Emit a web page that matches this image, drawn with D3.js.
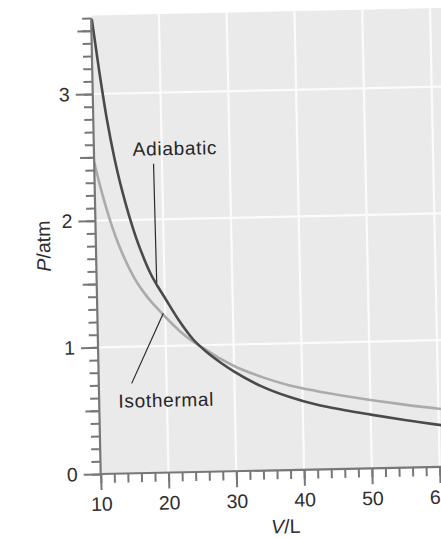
<!DOCTYPE html>
<html>
<head>
<meta charset="utf-8">
<script src="https://cdn.jsdelivr.net/npm/d3@7"></script>
<style>
  html, body { margin: 0; padding: 0; background: #fff; }
  svg { display: block; }
  text { font-family: "Liberation Sans", Arial, Helvetica, sans-serif; }
</style>
</head>
<body>
<svg id="chart" width="441" height="539"></svg>
<script>
// ---- data ----
const volumes    = [10, 11, 12, 13, 14, 15, 16, 17, 18, 19, 20, 22, 24, 26, 28, 30, 34, 38, 42, 46, 50, 55, 62];
const adiabatic  = [3.63, 3.19, 2.80, 2.49, 2.24, 2.03, 1.85, 1.70, 1.57, 1.47, 1.38, 1.20, 1.05, 0.945, 0.86, 0.785, 0.665, 0.578, 0.512, 0.465, 0.424, 0.376, 0.315];
const isothermal = [2.46, 2.23, 2.03, 1.86, 1.72, 1.60, 1.50, 1.42, 1.35, 1.29, 1.23, 1.12, 1.03, 0.96, 0.89, 0.83, 0.74, 0.67, 0.62, 0.578, 0.54, 0.497, 0.445];
const xTicks = [10, 20, 30, 40, 50, 60];
const yTicks = [0, 1, 2, 3];
const xMinorTicks = d3.range(10, 62, 2);
const yHalfTicks = [0.5, 1.5, 2.5, 3.5];
const yMinorTicks = d3.range(0, 36.5, 1).map(d => d / 10);
const xLabel = "V/L";
const yLabel = "P/atm";
const annotations = [
  { text: "Adiabatic", labelV: 21.95, labelP: 2.505, from: [18.75, 2.44], to: [18.85, 1.50] },
  { text: "Isothermal", labelV: 19.9, labelP: 0.52, from: [14.85, 0.71], to: [19.73, 1.258] }
];

// ---- layout ----
const ox = 100.7, oy = 474;
const x = d3.scaleLinear().domain([10, 60]).range([ox, ox + 5 * 67.8]);
const y = d3.scaleLinear().domain([0, 3]).range([oy, oy - 3 * 126.7]);
const pTop = 3.6;

const svg = d3.select("#chart");
const g = svg.append("g").attr("transform", `rotate(-1.2, ${ox}, ${oy})`);

// plot background
g.append("rect")
  .attr("x", x(10)).attr("y", y(3.62))
  .attr("width", x(64) - x(10)).attr("height", y(0) - y(3.62))
  .attr("fill", "#eaeaea");

// white gridlines
g.append("g").selectAll("line").data(xTicks.slice(1)).join("line")
  .attr("x1", d => x(d)).attr("x2", d => x(d))
  .attr("y1", y(0)).attr("y2", y(3.62))
  .attr("stroke", "#fbfbfb").attr("stroke-width", 2.2);
g.append("g").selectAll("line").data(yTicks.slice(1)).join("line")
  .attr("x1", x(10)).attr("x2", x(64))
  .attr("y1", d => y(d)).attr("y2", d => y(d))
  .attr("stroke", "#fbfbfb").attr("stroke-width", 2.2);

// clip for curves
svg.append("defs").append("clipPath").attr("id", "plotclip")
  .append("rect")
  .attr("x", x(10)).attr("y", y(pTop) + 1)
  .attr("width", x(64) - x(10)).attr("height", y(0) - y(pTop));

const line = (vals) => d3.line()
  .x((d, i) => x(volumes[i]))
  .y(d => y(d))
  .curve(d3.curveMonotoneX)(vals);

const curves = g.append("g").attr("clip-path", "url(#plotclip)");
curves.append("path").attr("d", line(isothermal))
  .attr("fill", "none").attr("stroke", "#ababab").attr("stroke-width", 2.6);
curves.append("path").attr("d", line(adiabatic))
  .attr("fill", "none").attr("stroke", "#4a4a4a").attr("stroke-width", 2.6);

// annotations
annotations.forEach(a => {
  g.append("line")
    .attr("x1", x(a.from[0])).attr("y1", y(a.from[1]))
    .attr("x2", x(a.to[0])).attr("y2", y(a.to[1]))
    .attr("stroke", "#2a2a2a").attr("stroke-width", 1.2);
  g.append("text")
    .attr("x", x(a.labelV)).attr("y", y(a.labelP))
    .attr("text-anchor", "middle")
    .attr("font-size", 19)
    .attr("letter-spacing", 0.7)
    .attr("fill", "#262626")
    .text(a.text);
});

// axes
const axisColor = "#777";
function styleAxis(sel) {
  sel.select(".domain").remove();
  sel.selectAll(".tick line").attr("stroke", axisColor).attr("stroke-width", 2);
  sel.selectAll(".tick text").attr("fill", "#2e2e2e").attr("font-size", 19.5)
    .attr("font-family", "'Liberation Sans', Arial, Helvetica, sans-serif");
}

// x axis minor + major
g.append("g").attr("transform", `translate(0,${oy})`)
  .call(d3.axisBottom(x).tickValues(xMinorTicks).tickSize(9).tickFormat(""))
  .call(styleAxis);
g.append("g").attr("transform", `translate(0,${oy})`)
  .call(d3.axisBottom(x).tickValues(xTicks).tickSize(16).tickPadding(7).tickFormat(d3.format("d")))
  .call(styleAxis);

// y axis minor, half, major
g.append("g").attr("transform", `translate(${ox},0)`)
  .call(d3.axisLeft(y).tickValues(yMinorTicks).tickSize(9).tickFormat(""))
  .call(styleAxis);
g.append("g").attr("transform", `translate(${ox},0)`)
  .call(d3.axisLeft(y).tickValues(yHalfTicks).tickSize(14).tickFormat(""))
  .call(styleAxis);
g.append("g").attr("transform", `translate(${ox},0)`)
  .call(d3.axisLeft(y).tickValues(yTicks).tickSize(17).tickPadding(6).tickFormat(d3.format("d")))
  .call(styleAxis);

// axis lines
g.append("line")
  .attr("x1", x(10)).attr("x2", x(64))
  .attr("y1", oy).attr("y2", oy)
  .attr("stroke", axisColor).attr("stroke-width", 2.2);
g.append("line")
  .attr("x1", ox).attr("x2", ox)
  .attr("y1", oy).attr("y2", y(pTop))
  .attr("stroke", axisColor).attr("stroke-width", 2.2);

// axis titles
const xt = g.append("text")
  .attr("x", 284.7).attr("y", 537)
  .attr("text-anchor", "middle").attr("font-size", 19.5).attr("fill", "#2e2e2e");
xt.append("tspan").attr("font-style", "italic").text(xLabel.split("/")[0]);
xt.append("tspan").text("/" + xLabel.split("/")[1]);

const yt = g.append("text")
  .attr("transform", `translate(55,245) rotate(-90)`)
  .attr("text-anchor", "middle").attr("font-size", 19.5).attr("fill", "#2e2e2e");
yt.append("tspan").attr("font-style", "italic").text(yLabel.split("/")[0]);
yt.append("tspan").text("/" + yLabel.split("/")[1]);
</script>
</body>
</html>
